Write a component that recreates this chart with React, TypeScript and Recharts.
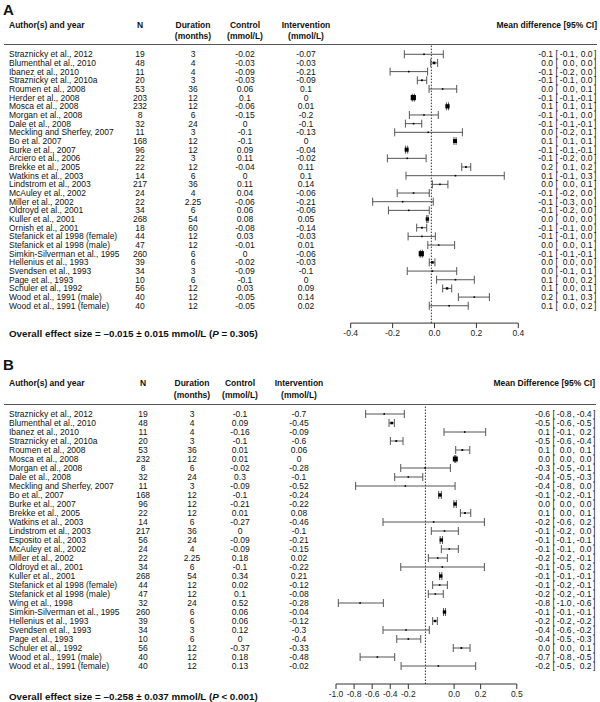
import React from 'react';
import { ScatterChart, Scatter, XAxis, YAxis, ErrorBar, ReferenceLine } from 'recharts';

const FONT = '"Liberation Sans", Arial, Helvetica, sans-serif';

// ---------------- Panel A data ----------------
const authorsA = [
  'Straznicky et al., 2012', 'Blumenthal et al., 2010', 'Ibanez et al., 2010', 'Straznicky et al., 2010a',
  'Roumen et al., 2008', 'Herder et al., 2008', 'Mosca et al., 2008', 'Morgan et al., 2008', 'Dale et al., 2008',
  'Meckling and Sherfey, 2007', 'Bo et al. 2007', 'Burke et al., 2007', 'Arciero et al., 2006', 'Brekke et al., 2005',
  'Watkins et al., 2003', 'Lindstrom et al., 2003', 'McAuley et al., 2002', 'Miller et al., 2002', 'Oldroyd et al., 2001',
  'Kuller et al., 2001', 'Ornish et al., 2001', 'Stefanick et al 1998 (female)', 'Stefanick et al 1998 (male)',
  'Simkin-Silverman et al., 1995', 'Hellenius et al., 1993', 'Svendsen et al., 1993', 'Page et al., 1993',
  'Schuler et al., 1992', 'Wood et al., 1991 (male)', 'Wood et al., 1991 (female)',
];
const nA = ['19', '48', '11', '20', '53', '203', '232', '8', '32', '11', '168', '96', '22', '22', '14', '217', '24', '22', '34', '268', '18', '44', '47', '260', '39', '34', '10', '56', '40', '40'];
const durationA = ['3', '4', '4', '3', '36', '12', '12', '6', '24', '3', '12', '12', '3', '12', '6', '36', '4', '2.25', '6', '54', '60', '12', '12', '6', '6', '3', '6', '12', '12', '12'];
const controlA = ['-0.02', '-0.03', '-0.09', '-0.03', '0.06', '0.1', '-0.06', '-0.15', '0', '-0.1', '-0.1', '0.09', '0.11', '-0.04', '0', '0.11', '0.04', '-0.06', '0.06', '0.08', '-0.08', '0.03', '-0.01', '0', '-0.02', '-0.09', '-0.1', '0.03', '-0.05', '-0.05'];
const interventionA = ['-0.07', '-0.03', '-0.21', '-0.09', '0.1', '0', '0.01', '-0.2', '-0.1', '-0.13', '0', '-0.04', '-0.02', '0.11', '0.1', '0.14', '-0.06', '-0.21', '-0.06', '0.05', '-0.14', '-0.03', '0.01', '-0.06', '-0.03', '-0.1', '0', '0.09', '0.14', '0.02'];
const mdA = [-0.05, -0.002, -0.123, -0.06, 0.039, -0.101, 0.062, -0.05, -0.1, -0.03, 0.098, -0.133, -0.13, 0.15, 0.1, 0.026, -0.1, -0.152, -0.123, -0.034, -0.06, -0.06, 0.02, -0.063, -0.01, -0.01, 0.1, 0.06, 0.19, 0.07];
const loA = [-0.144, -0.018, -0.212, -0.082, -0.026, -0.106, 0.057, -0.12, -0.139, -0.19, 0.093, -0.138, -0.225, 0.13, -0.136, -0.01, -0.178, -0.295, -0.22, -0.037, -0.085, -0.126, -0.032, -0.068, -0.025, -0.13, 0.01, 0.039, 0.114, -0.025];
const hiA = [0.042, 0.015, -0.033, -0.037, 0.106, -0.096, 0.067, 0.018, -0.061, 0.133, 0.103, -0.128, -0.04, 0.173, 0.333, 0.064, -0.025, -0.006, -0.025, -0.031, -0.037, 0.004, 0.096, -0.058, 0.002, 0.106, 0.19, 0.082, 0.262, 0.161];
const weightA = [0.5, 3, 0.5, 1.5, 1, 12, 8, 0.6, 1.2, 0.3, 7, 7, 0.5, 1.5, 0.3, 1.2, 0.6, 0.4, 0.5, 5, 1.5, 0.7, 0.7, 12, 3, 0.4, 0.6, 2.5, 0.7, 0.6];
const mdTextA = ['-0.1', '0.0', '-0.1', '-0.1', '0.0', '-0.1', '0.1', '-0.1', '-0.1', '0.0', '0.1', '-0.1', '-0.1', '0.2', '0.1', '0.0', '-0.1', '-0.1', '-0.1', '0.0', '-0.1', '-0.1', '0.0', '-0.1', '0.0', '0.0', '0.1', '0.1', '0.2', '0.1'];
const loTextA = ['-0.1', '0.0', '-0.2', '-0.1', '0.0', '-0.1', '0.1', '-0.1', '-0.1', '-0.2', '0.1', '-0.1', '-0.2', '0.1', '-0.1', '0.0', '-0.2', '-0.3', '-0.2', '0.0', '-0.1', '-0.1', '0.0', '-0.1', '0.0', '-0.1', '0.0', '0.0', '0.1', '0.0'];
const hiTextA = ['0.0', '0.0', '0.0', '0.0', '0.1', '-0.1', '0.1', '0.0', '-0.1', '0.1', '0.1', '-0.1', '0.0', '0.2', '0.3', '0.1', '0.0', '0.0', '0.0', '0.0', '0.0', '0.0', '0.1', '-0.1', '0.0', '0.1', '0.2', '0.1', '0.3', '0.2'];
const overallA = -0.015;
const ticksA = [-0.4, -0.2, 0, 0.2, 0.4];
const tickLabelsA = ['-0.4', '-0.2', '0.0', '0.2', '0.4'];

// ---------------- Panel B data ----------------
const authorsB = [
  'Straznicky et al., 2012', 'Blumenthal et al., 2010', 'Ibanez et al., 2010', 'Straznicky et al., 2010a',
  'Roumen et al., 2008', 'Mosca et al., 2008', 'Morgan et al., 2008', 'Dale et al., 2008', 'Meckling and Sherfey, 2007',
  'Bo et al., 2007', 'Burke et al., 2007', 'Brekke et al., 2005', 'Watkins et al., 2003', 'Lindstrom et al., 2003',
  'Esposito et al., 2003', 'McAuley et al., 2002', 'Miller et al., 2002', 'Oldroyd et al., 2001', 'Kuller et al., 2001',
  'Stefanick et al 1998 (female)', 'Stefanick et al 1998 (male)', 'Wing et al., 1998', 'Simkin-Silverman et al., 1995',
  'Hellenius et al., 1993', 'Svendsen et al., 1993', 'Page et al., 1993', 'Schuler et al., 1992',
  'Wood et al., 1991 (male)', 'Wood et al., 1991 (female)',
];
const nB = ['19', '48', '11', '20', '53', '232', '8', '32', '11', '168', '96', '22', '14', '217', '56', '24', '22', '34', '268', '44', '47', '32', '260', '39', '34', '10', '56', '40', '40'];
const durationB = ['3', '4', '4', '3', '36', '12', '6', '24', '3', '12', '12', '12', '6', '36', '24', '4', '2.25', '6', '54', '12', '12', '24', '6', '6', '3', '6', '12', '12', '12'];
const controlB = ['-0.1', '0.09', '-0.16', '-0.1', '0.01', '0.01', '-0.02', '0.3', '-0.09', '-0.1', '-0.21', '0.01', '-0.27', '0', '-0.09', '-0.09', '0.18', '-0.1', '0.34', '0.02', '0.1', '0.52', '0.06', '0.06', '0.12', '0', '-0.37', '0.18', '0.13'];
const interventionB = ['-0.7', '-0.45', '-0.09', '-0.6', '0.06', '0', '-0.28', '-0.1', '-0.52', '-0.24', '-0.22', '0.08', '-0.46', '-0.1', '-0.21', '-0.15', '0.02', '-0.22', '0.21', '-0.12', '-0.08', '-0.28', '-0.04', '-0.12', '-0.3', '-0.4', '-0.33', '-0.48', '-0.02'];
const mdB = [-0.6, -0.538, 0.068, -0.5, 0.048, -0.01, -0.261, -0.4, -0.425, -0.137, -0.012, 0.07, -0.19, -0.1, -0.126, -0.06, -0.156, -0.118, -0.131, -0.14, -0.176, -0.8, -0.1, -0.178, -0.419, -0.4, 0.04, -0.657, -0.151];
const loB = [-0.754, -0.56, -0.104, -0.549, -0.007, -0.014, -0.463, -0.513, -0.837, -0.148, -0.022, 0.032, -0.61, -0.209, -0.136, -0.126, -0.234, -0.463, -0.14, -0.198, -0.234, -0.981, -0.108, -0.198, -0.61, -0.496, -0.027, -0.8, -0.46];
const hiB = [-0.433, -0.516, 0.242, -0.444, 0.11, -0.006, -0.051, -0.28, -0.012, -0.126, -0.002, 0.118, 0.231, 0.015, -0.116, 0.015, -0.076, 0.231, -0.122, -0.076, -0.11, -0.607, -0.092, -0.159, -0.226, -0.297, 0.112, -0.513, 0.159];
const weightB = [0.5, 3, 0.5, 1.5, 1.5, 11, 0.5, 0.5, 0.3, 5, 5, 1.5, 0.3, 1, 5, 1, 1, 0.3, 5, 1, 1, 0.5, 5, 2.5, 0.5, 0.8, 1.5, 0.8, 0.5];
const mdTextB = ['-0.6', '-0.5', '0.1', '-0.5', '0.1', '0.0', '-0.3', '-0.4', '-0.4', '-0.1', '0.0', '0.1', '-0.2', '-0.1', '-0.1', '-0.1', '-0.2', '-0.1', '-0.1', '-0.1', '-0.2', '-0.8', '-0.1', '-0.2', '-0.4', '-0.4', '0.0', '-0.7', '-0.2'];
const loTextB = ['-0.8', '-0.6', '-0.1', '-0.6', '0.0', '0.0', '-0.5', '-0.5', '-0.8', '-0.2', '0.0', '0.0', '-0.6', '-0.2', '-0.1', '-0.1', '-0.2', '-0.5', '-0.1', '-0.2', '-0.2', '-1.0', '-0.1', '-0.2', '-0.6', '-0.5', '0.0', '-0.8', '-0.5'];
const hiTextB = ['-0.4', '-0.5', '0.2', '-0.4', '0.1', '0.0', '-0.1', '-0.3', '0.0', '-0.1', '0.0', '0.1', '0.2', '0.0', '-0.1', '0.0', '-0.1', '0.2', '-0.1', '-0.1', '-0.1', '-0.6', '-0.1', '-0.2', '-0.2', '-0.3', '0.1', '-0.5', '0.2'];
const overallB = -0.258;
const ticksB = [-1.0, -0.85, -0.7, -0.55, -0.4, -0.02, 0.2, 0.5];
const tickLabelsB = ['-1.0', '-0.8', '-0.6', '-0.4', '-0.2', '0.0', '0.2', '0.5'];

// ---------------- helpers ----------------
type Cols = { author: number; n: number; dur: number; ctl: number; itv: number; c1: number; c2: number; c3: number };

function buildData(md: number[], lo: number[], hi: number[], w: number[]) {
  return md.map((m, i) => ({ row: i, md: m, err: [m - lo[i], hi[i] - m], w: w[i] }));
}

function makeRowTick(
  authors: string[], n: string[], dur: string[], ctl: string[], itv: string[],
  mdT: string[], loT: string[], hiT: string[], cols: Cols,
) {
  return (props: any) => {
    const { y, payload } = props;
    const i = Math.round(payload.value as number);
    if (i < 0 || i >= authors.length) return <g />;
    const common = { y, dominantBaseline: 'central' as const, fontSize: 8.5, fill: '#111', fontFamily: FONT };
    return (
      <g>
        <text {...common} x={cols.author} textAnchor="start">{authors[i]}</text>
        <text {...common} x={cols.n} textAnchor="middle">{n[i]}</text>
        <text {...common} x={cols.dur} textAnchor="middle">{dur[i]}</text>
        <text {...common} x={cols.ctl} textAnchor="middle">{ctl[i]}</text>
        <text {...common} x={cols.itv} textAnchor="middle">{itv[i]}</text>
        <text {...common} x={cols.c1} textAnchor="end">{mdT[i]}</text>
        <text {...common} x={cols.c1 + 2.5} textAnchor="start">[</text>
        <text {...common} x={cols.c2} textAnchor="end">{loT[i]}</text>
        <text {...common} x={cols.c2 + 1} textAnchor="start">,</text>
        <text {...common} x={cols.c3} textAnchor="end">{hiT[i]}</text>
        <text {...common} x={cols.c3 + 1.5} textAnchor="start">]</text>
      </g>
    );
  };
}

const squareShape = (props: any) => {
  const { cx, cy, payload } = props;
  const s = Math.max(1.6, 1.5 * Math.sqrt(payload.w));
  return <rect x={cx - s / 2} y={cy - s / 2} width={s} height={s} fill="#000" />;
};

const dataA = buildData(mdA, loA, hiA, weightA);
const dataB = buildData(mdB, loB, hiB, weightB);
const rowsA = authorsA.map((_, i) => i);
const rowsB = authorsB.map((_, i) => i);

const colsA: Cols = { author: 9, n: 140, dur: 193, ctl: 245, itv: 306, c1: 553, c2: 574.5, c3: 592.5 };
const colsB: Cols = { author: 9, n: 143, dur: 192, ctl: 240, itv: 299, c1: 550, c2: 571.5, c3: 591.5 };

const tickA = makeRowTick(authorsA, nA, durationA, controlA, interventionA, mdTextA, loTextA, hiTextA, colsA);
const tickB = makeRowTick(authorsB, nB, durationB, controlB, interventionB, mdTextB, loTextB, hiTextB, colsB);

const axisTickStyle = { fontSize: 8.5, fill: '#222', fontFamily: FONT };

function Headers() {
  const hb = { fontFamily: FONT, fontWeight: 700, fontSize: 8.5, fill: '#111', dominantBaseline: 'central' as const };
  return (
    <svg width={600} height={702} style={{ position: 'absolute', left: 0, top: 0, pointerEvents: 'none' }}>
      <text x={3} y={9} fontFamily={FONT} fontWeight={700} fontSize={15} dominantBaseline="central" fill="#111">A</text>
      <text {...hb} x={9} y={25}>Author(s) and year</text>
      <text {...hb} x={140} y={25} textAnchor="middle">N</text>
      <text {...hb} x={193} y={25} textAnchor="middle">Duration</text>
      <text {...hb} x={193} y={36} textAnchor="middle">(months)</text>
      <text {...hb} x={245} y={25} textAnchor="middle">Control</text>
      <text {...hb} x={245} y={36} textAnchor="middle">(mmol/L)</text>
      <text {...hb} x={306} y={25} textAnchor="middle">Intervention</text>
      <text {...hb} x={306} y={36} textAnchor="middle">(mmol/L)</text>
      <text {...hb} x={597} y={25} textAnchor="end">Mean difference [95% CI]</text>
      <line x1={4} x2={597} y1={44.5} y2={44.5} stroke="#555" strokeWidth={1} />
      <text x={9} y={333} fontFamily={FONT} fontWeight={700} fontSize={9.8} dominantBaseline="central" fill="#111">
        Overall effect size = –0.015 ± 0.015 mmol/L (<tspan fontStyle="italic">P</tspan> = 0.305)
      </text>

      <text x={3} y={364} fontFamily={FONT} fontWeight={700} fontSize={15} dominantBaseline="central" fill="#111">B</text>
      <text {...hb} x={9} y={383}>Author(s) and year</text>
      <text {...hb} x={143} y={383} textAnchor="middle">N</text>
      <text {...hb} x={192} y={383} textAnchor="middle">Duration</text>
      <text {...hb} x={192} y={394.5} textAnchor="middle">(months)</text>
      <text {...hb} x={240} y={383} textAnchor="middle">Control</text>
      <text {...hb} x={240} y={394.5} textAnchor="middle">(mmol/L)</text>
      <text {...hb} x={299} y={383} textAnchor="middle">Intervention</text>
      <text {...hb} x={299} y={394.5} textAnchor="middle">(mmol/L)</text>
      <text {...hb} x={595} y={383} textAnchor="end">Mean Difference [95% CI]</text>
      <line x1={4} x2={596} y1={404.5} y2={404.5} stroke="#555" strokeWidth={1} />
      <text x={9} y={696} fontFamily={FONT} fontWeight={700} fontSize={9.8} dominantBaseline="central" fill="#111">
        Overall effect size = –0.258 ± 0.037 mmol/L (<tspan fontStyle="italic">P</tspan> &lt; 0.001)
      </text>
    </svg>
  );
}

export default function App() {
  return (
    <div style={{ position: 'absolute', left: 0, top: 0, width: 600, height: 702, background: '#fff', overflow: 'hidden' }}>
      <div style={{ position: 'absolute', left: 0, top: 0 }}>
        <ScatterChart width={600} height={350} margin={{ top: 45.6, right: 81.7, bottom: 6.9, left: 349.7 }}>
          <XAxis
            type="number" dataKey="md" domain={[-0.4, 0.4]} ticks={ticksA} interval={0} allowDataOverflow
            tickFormatter={(v: number) => tickLabelsA[ticksA.indexOf(v)] ?? ''}
            tick={axisTickStyle} stroke="#333" tickSize={5} tickMargin={2} height={20}
          />
          <YAxis
            type="number" dataKey="row" domain={[-1, 31]} reversed ticks={rowsA} interval={0}
            width={1} axisLine={false} tickLine={false} tick={tickA}
          />
          <ReferenceLine x={overallA} stroke="#333" strokeDasharray="1.5 1.5" strokeWidth={1} />
          <Scatter data={dataA} shape={squareShape} isAnimationActive={false}>
            <ErrorBar dataKey="err" direction="x" width={4} stroke="#555" strokeWidth={1} />
          </Scatter>
        </ScatterChart>
      </div>
      <div style={{ position: 'absolute', left: 0, top: 350 }}>
        <ScatterChart width={600} height={352} margin={{ top: 55, right: 83.2, bottom: 4, left: 335 }}>
          <XAxis
            type="number" dataKey="md" domain={[-1.0, 0.5]} ticks={ticksB} interval={0} allowDataOverflow
            tickFormatter={(v: number) => tickLabelsB[ticksB.indexOf(v)] ?? ''}
            tick={axisTickStyle} stroke="#333" tickSize={5} tickMargin={2} height={14}
          />
          <YAxis
            type="number" dataKey="row" domain={[-1, 30]} reversed ticks={rowsB} interval={0}
            width={1} axisLine={false} tickLine={false} tick={tickB}
          />
          <ReferenceLine x={overallB} stroke="#333" strokeDasharray="1.5 1.5" strokeWidth={1} />
          <Scatter data={dataB} shape={squareShape} isAnimationActive={false}>
            <ErrorBar dataKey="err" direction="x" width={4} stroke="#555" strokeWidth={1} />
          </Scatter>
        </ScatterChart>
      </div>
      <Headers />
    </div>
  );
}
